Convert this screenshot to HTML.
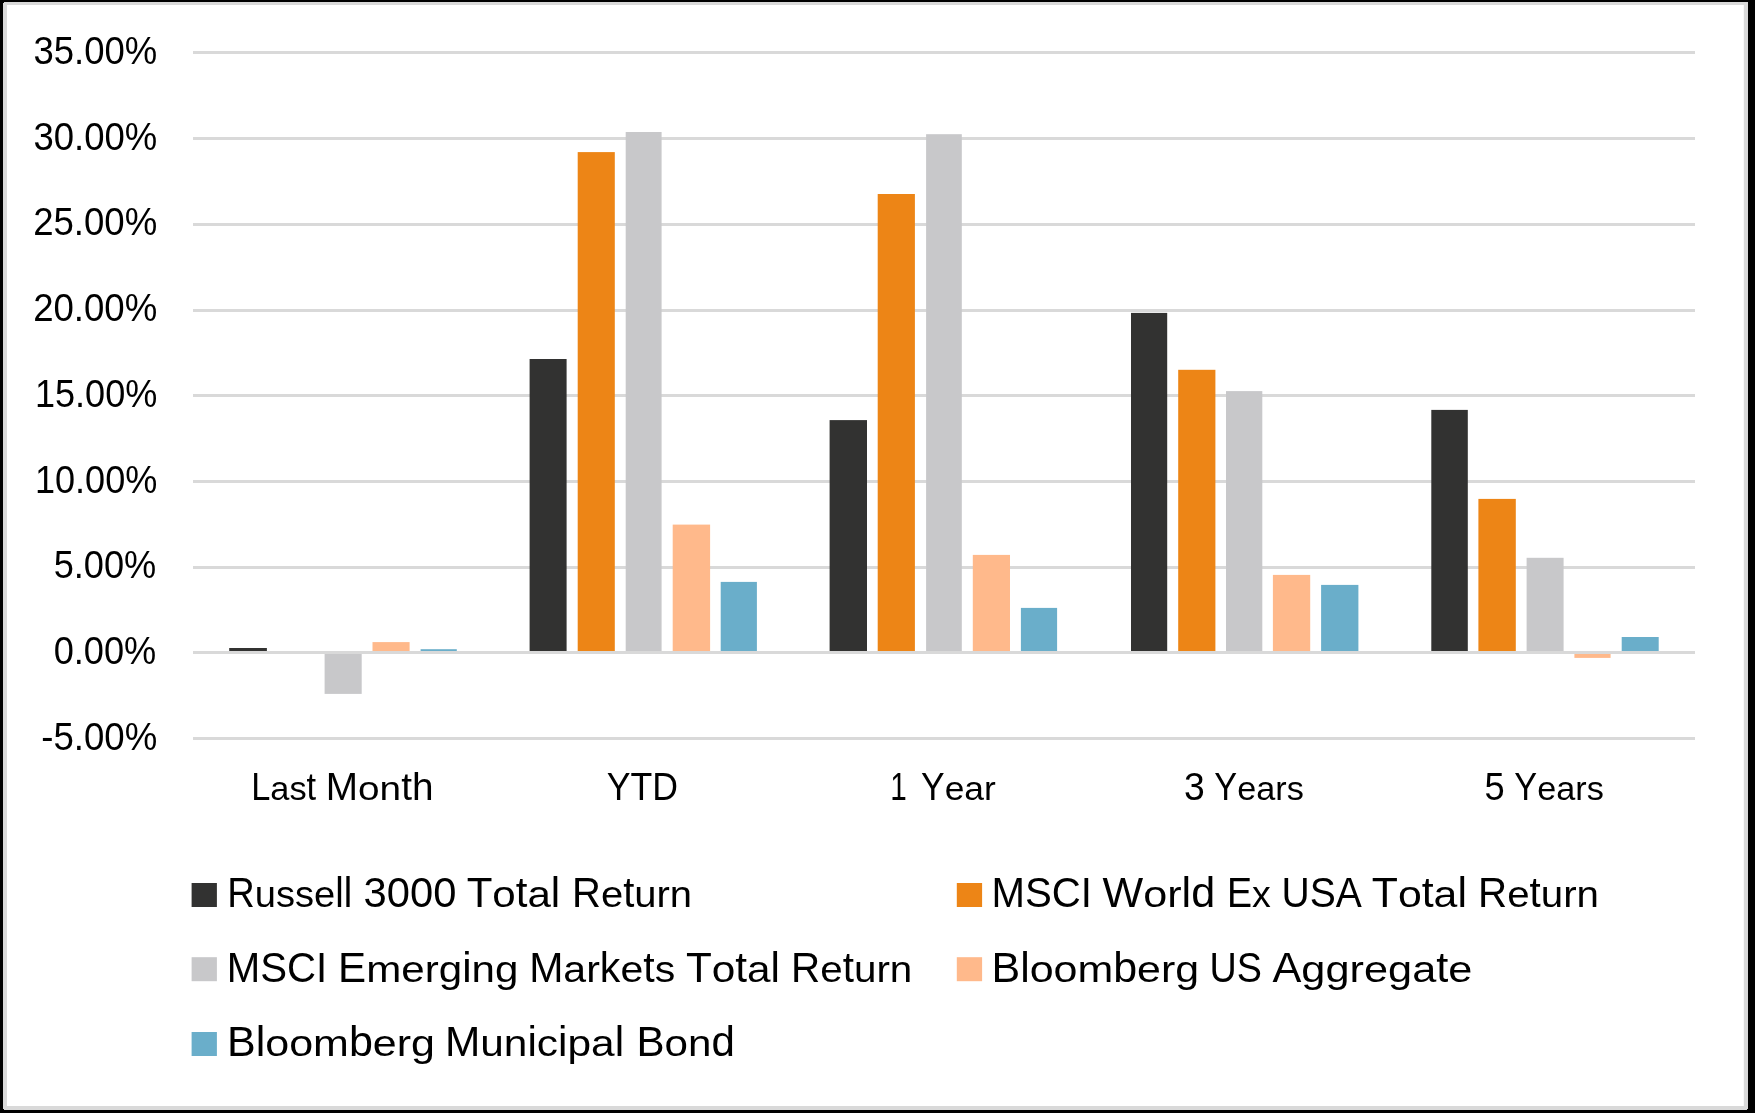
<!DOCTYPE html>
<html lang="en">
<head>
<meta charset="utf-8">
<title>Index Returns</title>
<style>
html,body{margin:0;padding:0;background:#000;}
body{width:1755px;height:1113px;overflow:hidden;}
svg{display:block;will-change:transform;}
text{font-family:"Liberation Sans",sans-serif;fill:#000;}
</style>
</head>
<body>
<svg width="1755" height="1113" viewBox="0 0 1755 1113">
<rect x="0" y="0" width="1755" height="1113" fill="#000"/>
<rect x="3" y="2" width="1745" height="1108" fill="#D9D9D9"/>
<rect x="7" y="5" width="1736.8" height="1101" fill="#fff"/>
<rect x="3" y="2" width="1" height="1" fill="#000"/><rect x="1747" y="1109" width="1" height="1" fill="#000"/><rect x="3" y="1109" width="1" height="1" fill="#000"/>
<g fill="#D9D9D9">
<rect x="193" y="51" width="1502" height="3"/>
<rect x="193" y="137" width="1502" height="3"/>
<rect x="193" y="223" width="1502" height="3"/>
<rect x="193" y="309" width="1502" height="3"/>
<rect x="193" y="394" width="1502" height="3"/>
<rect x="193" y="480" width="1502" height="3"/>
<rect x="193" y="566" width="1502" height="3"/>
<rect x="193" y="737" width="1502" height="3"/>
</g>
<rect x="229.2" y="648.0" width="37.7" height="3.0" fill="#323231"/>
<rect x="324.6" y="654.0" width="37.1" height="39.9" fill="#C8C8CA"/>
<rect x="372.5" y="642.1" width="37.1" height="8.9" fill="#FFB98B"/>
<rect x="420.6" y="649.2" width="36.2" height="1.8" fill="#6AAECA"/>
<rect x="529.6" y="359.0" width="37.0" height="292.0" fill="#323231"/>
<rect x="577.7" y="152.1" width="37.1" height="498.9" fill="#ED8516"/>
<rect x="625.7" y="132.0" width="35.9" height="519.0" fill="#C8C8CA"/>
<rect x="672.7" y="524.6" width="37.4" height="126.4" fill="#FFB98B"/>
<rect x="720.7" y="581.9" width="36.2" height="69.1" fill="#6AAECA"/>
<rect x="829.6" y="420.1" width="37.4" height="230.9" fill="#323231"/>
<rect x="877.7" y="194.0" width="37.2" height="457.0" fill="#ED8516"/>
<rect x="926.1" y="134.2" width="35.7" height="516.8" fill="#C8C8CA"/>
<rect x="972.8" y="554.9" width="37.2" height="96.1" fill="#FFB98B"/>
<rect x="1020.9" y="607.9" width="36.2" height="43.1" fill="#6AAECA"/>
<rect x="1131.0" y="312.9" width="36.2" height="338.1" fill="#323231"/>
<rect x="1178.2" y="369.8" width="37.2" height="281.2" fill="#ED8516"/>
<rect x="1226.0" y="391.1" width="36.3" height="259.9" fill="#C8C8CA"/>
<rect x="1272.9" y="574.9" width="37.3" height="76.1" fill="#FFB98B"/>
<rect x="1321.1" y="584.9" width="37.3" height="66.1" fill="#6AAECA"/>
<rect x="1431.3" y="409.9" width="36.5" height="241.1" fill="#323231"/>
<rect x="1478.4" y="498.9" width="37.4" height="152.1" fill="#ED8516"/>
<rect x="1526.6" y="557.8" width="37.0" height="93.2" fill="#C8C8CA"/>
<rect x="1574.4" y="654.0" width="36.2" height="3.9" fill="#FFB98B"/>
<rect x="1621.7" y="637.0" width="37.0" height="14.0" fill="#6AAECA"/>
<rect x="193" y="651" width="1502" height="3" fill="#D9D9D9"/>
<rect x="191.6" y="883.0" width="25.3" height="24.0" fill="#323231"/>
<rect x="956.8" y="883.0" width="25.3" height="24.0" fill="#ED8516"/>
<rect x="191.6" y="957.2" width="25.3" height="24.0" fill="#C8C8CA"/>
<rect x="956.8" y="957.2" width="25.3" height="24.0" fill="#FFB98B"/>
<rect x="191.6" y="1032.0" width="25.3" height="24.0" fill="#6AAECA"/>
<text x="33.52" y="64.40" font-size="39.0" textLength="123.76" lengthAdjust="spacingAndGlyphs">35.00%</text>
<text x="33.52" y="150.40" font-size="39.0" textLength="123.76" lengthAdjust="spacingAndGlyphs">30.00%</text>
<text x="33.15" y="235.40" font-size="39.0" textLength="124.13" lengthAdjust="spacingAndGlyphs">25.00%</text>
<text x="33.15" y="321.40" font-size="39.0" textLength="124.13" lengthAdjust="spacingAndGlyphs">20.00%</text>
<text x="35.01" y="407.40" font-size="39.0" textLength="122.29" lengthAdjust="spacingAndGlyphs">15.00%</text>
<text x="35.01" y="493.40" font-size="39.0" textLength="122.29" lengthAdjust="spacingAndGlyphs">10.00%</text>
<text x="53.66" y="578.40" font-size="39.0" textLength="102.62" lengthAdjust="spacingAndGlyphs">5.00%</text>
<text x="53.66" y="664.40" font-size="39.0" textLength="102.62" lengthAdjust="spacingAndGlyphs">0.00%</text>
<text x="41.26" y="750.40" font-size="39.0" textLength="116.02" lengthAdjust="spacingAndGlyphs">-5.00%</text>
<text x="251.17" y="800.00" font-size="39.0" textLength="19.11" lengthAdjust="spacingAndGlyphs">L</text>
<text transform="translate(0 800.00) scale(1 0.870)" x="270.28" y="0" font-size="39.0" textLength="36.29" lengthAdjust="spacingAndGlyphs">as</text>
<text x="306.57" y="800.00" font-size="39.0" textLength="9.55" lengthAdjust="spacingAndGlyphs">t</text>
<text x="325.77" y="800.00" font-size="39.0" textLength="32.27" lengthAdjust="spacingAndGlyphs">M</text>
<text transform="translate(0 800.00) scale(1 0.870)" x="358.04" y="0" font-size="39.0" textLength="43.09" lengthAdjust="spacingAndGlyphs">on</text>
<text x="401.13" y="800.00" font-size="39.0" textLength="32.31" lengthAdjust="spacingAndGlyphs">th</text>
<text x="606.66" y="800.00" font-size="39.0" textLength="71.30" lengthAdjust="spacingAndGlyphs">YTD</text>
<text x="890.13" y="800.00" font-size="39.0" textLength="16.54" lengthAdjust="spacingAndGlyphs">1</text>
<text x="921.03" y="800.00" font-size="39.0" textLength="23.63" lengthAdjust="spacingAndGlyphs">Y</text>
<text transform="translate(0 800.00) scale(1 0.870)" x="944.66" y="0" font-size="39.0" textLength="51.20" lengthAdjust="spacingAndGlyphs">ear</text>
<text x="1183.94" y="800.00" font-size="39.0" textLength="20.76" lengthAdjust="spacingAndGlyphs">3</text>
<text x="1214.33" y="800.00" font-size="39.0" textLength="22.84" lengthAdjust="spacingAndGlyphs">Y</text>
<text transform="translate(0 800.00) scale(1 0.870)" x="1237.17" y="0" font-size="39.0" textLength="66.62" lengthAdjust="spacingAndGlyphs">ears</text>
<text x="1484.53" y="800.00" font-size="39.0" textLength="20.17" lengthAdjust="spacingAndGlyphs">5</text>
<text x="1514.33" y="800.00" font-size="39.0" textLength="22.84" lengthAdjust="spacingAndGlyphs">Y</text>
<text transform="translate(0 800.00) scale(1 0.870)" x="1537.17" y="0" font-size="39.0" textLength="66.62" lengthAdjust="spacingAndGlyphs">ears</text>
<text x="227.21" y="907.00" font-size="43.3" textLength="27.51" lengthAdjust="spacingAndGlyphs">R</text>
<text transform="translate(0 907.00) scale(1 0.870)" x="254.72" y="0" font-size="43.3" textLength="80.47" lengthAdjust="spacingAndGlyphs">usse</text>
<text x="335.19" y="907.00" font-size="43.3" textLength="16.93" lengthAdjust="spacingAndGlyphs">ll</text>
<text x="363.59" y="907.00" font-size="43.3" textLength="92.87" lengthAdjust="spacingAndGlyphs">3000</text>
<text x="466.66" y="907.00" font-size="43.3" textLength="25.70" lengthAdjust="spacingAndGlyphs">T</text>
<text transform="translate(0 907.00) scale(1 0.870)" x="492.36" y="0" font-size="43.3" textLength="23.40" lengthAdjust="spacingAndGlyphs">o</text>
<text x="515.76" y="907.00" font-size="43.3" textLength="11.69" lengthAdjust="spacingAndGlyphs">t</text>
<text transform="translate(0 907.00) scale(1 0.870)" x="527.45" y="0" font-size="43.3" textLength="23.40" lengthAdjust="spacingAndGlyphs">a</text>
<text x="550.85" y="907.00" font-size="43.3" textLength="9.35" lengthAdjust="spacingAndGlyphs">l</text>
<text x="572.11" y="907.00" font-size="43.3" textLength="28.87" lengthAdjust="spacingAndGlyphs">R</text>
<text transform="translate(0 907.00) scale(1 0.870)" x="600.98" y="0" font-size="43.3" textLength="22.24" lengthAdjust="spacingAndGlyphs">e</text>
<text x="623.22" y="907.00" font-size="43.3" textLength="11.11" lengthAdjust="spacingAndGlyphs">t</text>
<text transform="translate(0 907.00) scale(1 0.870)" x="634.33" y="0" font-size="43.3" textLength="57.78" lengthAdjust="spacingAndGlyphs">urn</text>
<text x="991.45" y="907.00" font-size="43.3" textLength="100.42" lengthAdjust="spacingAndGlyphs">MSCI</text>
<text x="1102.54" y="907.00" font-size="43.3" textLength="40.69" lengthAdjust="spacingAndGlyphs">W</text>
<text transform="translate(0 907.00) scale(1 0.870)" x="1143.23" y="0" font-size="43.3" textLength="38.34" lengthAdjust="spacingAndGlyphs">or</text>
<text x="1181.57" y="907.00" font-size="43.3" textLength="33.56" lengthAdjust="spacingAndGlyphs">ld</text>
<text x="1227.02" y="907.00" font-size="43.3" textLength="25.04" lengthAdjust="spacingAndGlyphs">E</text>
<text transform="translate(0 907.00) scale(1 0.870)" x="1252.06" y="0" font-size="43.3" textLength="18.77" lengthAdjust="spacingAndGlyphs">x</text>
<text x="1281.44" y="907.00" font-size="43.3" textLength="80.27" lengthAdjust="spacingAndGlyphs">USA</text>
<text x="1371.74" y="907.00" font-size="43.3" textLength="26.16" lengthAdjust="spacingAndGlyphs">T</text>
<text transform="translate(0 907.00) scale(1 0.870)" x="1397.90" y="0" font-size="43.3" textLength="23.82" lengthAdjust="spacingAndGlyphs">o</text>
<text x="1421.72" y="907.00" font-size="43.3" textLength="11.90" lengthAdjust="spacingAndGlyphs">t</text>
<text transform="translate(0 907.00) scale(1 0.870)" x="1433.62" y="0" font-size="43.3" textLength="23.82" lengthAdjust="spacingAndGlyphs">a</text>
<text x="1457.44" y="907.00" font-size="43.3" textLength="9.51" lengthAdjust="spacingAndGlyphs">l</text>
<text x="1478.08" y="907.00" font-size="43.3" textLength="29.10" lengthAdjust="spacingAndGlyphs">R</text>
<text transform="translate(0 907.00) scale(1 0.870)" x="1507.19" y="0" font-size="43.3" textLength="22.41" lengthAdjust="spacingAndGlyphs">e</text>
<text x="1529.60" y="907.00" font-size="43.3" textLength="11.20" lengthAdjust="spacingAndGlyphs">t</text>
<text transform="translate(0 907.00) scale(1 0.870)" x="1540.79" y="0" font-size="43.3" textLength="58.24" lengthAdjust="spacingAndGlyphs">urn</text>
<text x="226.85" y="981.60" font-size="43.3" textLength="100.42" lengthAdjust="spacingAndGlyphs">MSCI</text>
<text x="338.08" y="981.60" font-size="43.3" textLength="28.10" lengthAdjust="spacingAndGlyphs">E</text>
<text transform="translate(0 981.60) scale(1 0.870)" x="366.17" y="0" font-size="43.3" textLength="95.97" lengthAdjust="spacingAndGlyphs">merg</text>
<text x="462.14" y="981.60" font-size="43.3" textLength="9.36" lengthAdjust="spacingAndGlyphs">i</text>
<text transform="translate(0 981.60) scale(1 0.870)" x="471.50" y="0" font-size="43.3" textLength="46.85" lengthAdjust="spacingAndGlyphs">ng</text>
<text x="529.14" y="981.60" font-size="43.3" textLength="34.21" lengthAdjust="spacingAndGlyphs">M</text>
<text transform="translate(0 981.60) scale(1 0.870)" x="563.35" y="0" font-size="43.3" textLength="36.52" lengthAdjust="spacingAndGlyphs">ar</text>
<text x="599.87" y="981.60" font-size="43.3" textLength="20.54" lengthAdjust="spacingAndGlyphs">k</text>
<text transform="translate(0 981.60) scale(1 0.870)" x="620.41" y="0" font-size="43.3" textLength="22.84" lengthAdjust="spacingAndGlyphs">e</text>
<text x="643.25" y="981.60" font-size="43.3" textLength="11.41" lengthAdjust="spacingAndGlyphs">t</text>
<text transform="translate(0 981.60) scale(1 0.870)" x="654.66" y="0" font-size="43.3" textLength="20.54" lengthAdjust="spacingAndGlyphs">s</text>
<text x="685.96" y="981.60" font-size="43.3" textLength="25.84" lengthAdjust="spacingAndGlyphs">T</text>
<text transform="translate(0 981.60) scale(1 0.870)" x="711.80" y="0" font-size="43.3" textLength="23.53" lengthAdjust="spacingAndGlyphs">o</text>
<text x="735.33" y="981.60" font-size="43.3" textLength="11.75" lengthAdjust="spacingAndGlyphs">t</text>
<text transform="translate(0 981.60) scale(1 0.870)" x="747.09" y="0" font-size="43.3" textLength="23.53" lengthAdjust="spacingAndGlyphs">a</text>
<text x="770.62" y="981.60" font-size="43.3" textLength="9.40" lengthAdjust="spacingAndGlyphs">l</text>
<text x="791.08" y="981.60" font-size="43.3" textLength="29.18" lengthAdjust="spacingAndGlyphs">R</text>
<text transform="translate(0 981.60) scale(1 0.870)" x="820.25" y="0" font-size="43.3" textLength="22.47" lengthAdjust="spacingAndGlyphs">e</text>
<text x="842.72" y="981.60" font-size="43.3" textLength="11.22" lengthAdjust="spacingAndGlyphs">t</text>
<text transform="translate(0 981.60) scale(1 0.870)" x="853.95" y="0" font-size="43.3" textLength="58.39" lengthAdjust="spacingAndGlyphs">urn</text>
<text x="991.54" y="981.60" font-size="43.3" textLength="38.18" lengthAdjust="spacingAndGlyphs">Bl</text>
<text transform="translate(0 981.60) scale(1 0.870)" x="1029.72" y="0" font-size="43.3" textLength="83.53" lengthAdjust="spacingAndGlyphs">oom</text>
<text x="1113.25" y="981.60" font-size="43.3" textLength="23.88" lengthAdjust="spacingAndGlyphs">b</text>
<text transform="translate(0 981.60) scale(1 0.870)" x="1137.12" y="0" font-size="43.3" textLength="62.06" lengthAdjust="spacingAndGlyphs">erg</text>
<text x="1209.54" y="981.60" font-size="43.3" textLength="52.39" lengthAdjust="spacingAndGlyphs">US</text>
<text x="1272.45" y="981.60" font-size="43.3" textLength="28.90" lengthAdjust="spacingAndGlyphs">A</text>
<text transform="translate(0 981.60) scale(1 0.870)" x="1301.34" y="0" font-size="43.3" textLength="134.90" lengthAdjust="spacingAndGlyphs">ggrega</text>
<text x="1436.24" y="981.60" font-size="43.3" textLength="12.04" lengthAdjust="spacingAndGlyphs">t</text>
<text transform="translate(0 981.60) scale(1 0.870)" x="1448.28" y="0" font-size="43.3" textLength="24.09" lengthAdjust="spacingAndGlyphs">e</text>
<text x="227.04" y="1055.90" font-size="43.3" textLength="38.23" lengthAdjust="spacingAndGlyphs">Bl</text>
<text transform="translate(0 1055.90) scale(1 0.870)" x="265.27" y="0" font-size="43.3" textLength="83.65" lengthAdjust="spacingAndGlyphs">oom</text>
<text x="348.92" y="1055.90" font-size="43.3" textLength="23.92" lengthAdjust="spacingAndGlyphs">b</text>
<text transform="translate(0 1055.90) scale(1 0.870)" x="372.84" y="0" font-size="43.3" textLength="62.15" lengthAdjust="spacingAndGlyphs">erg</text>
<text x="444.93" y="1055.90" font-size="43.3" textLength="35.33" lengthAdjust="spacingAndGlyphs">M</text>
<text transform="translate(0 1055.90) scale(1 0.870)" x="480.25" y="0" font-size="43.3" textLength="47.17" lengthAdjust="spacingAndGlyphs">un</text>
<text x="527.42" y="1055.90" font-size="43.3" textLength="9.42" lengthAdjust="spacingAndGlyphs">i</text>
<text transform="translate(0 1055.90) scale(1 0.870)" x="536.84" y="0" font-size="43.3" textLength="21.20" lengthAdjust="spacingAndGlyphs">c</text>
<text x="558.04" y="1055.90" font-size="43.3" textLength="9.42" lengthAdjust="spacingAndGlyphs">i</text>
<text transform="translate(0 1055.90) scale(1 0.870)" x="567.47" y="0" font-size="43.3" textLength="47.17" lengthAdjust="spacingAndGlyphs">pa</text>
<text x="614.63" y="1055.90" font-size="43.3" textLength="9.42" lengthAdjust="spacingAndGlyphs">l</text>
<text x="636.53" y="1055.90" font-size="43.3" textLength="28.09" lengthAdjust="spacingAndGlyphs">B</text>
<text transform="translate(0 1055.90) scale(1 0.870)" x="664.62" y="0" font-size="43.3" textLength="46.84" lengthAdjust="spacingAndGlyphs">on</text>
<text x="711.46" y="1055.90" font-size="43.3" textLength="23.42" lengthAdjust="spacingAndGlyphs">d</text>
</svg>
</body>
</html>
